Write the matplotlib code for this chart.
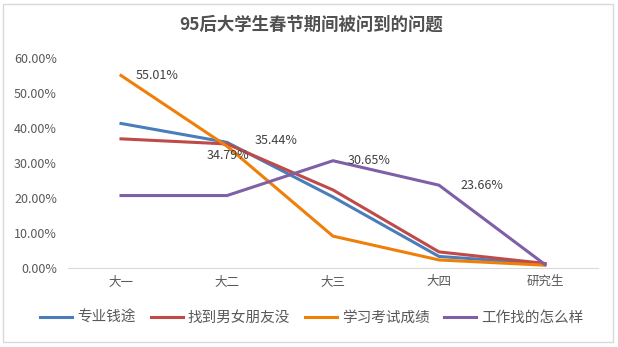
import matplotlib
matplotlib.use("Agg")
import matplotlib.pyplot as plt
from matplotlib.patches import Rectangle

plt.rcParams['font.family'] = ['Noto Sans CJK SC', 'DejaVu Sans']

categories = ["大一", "大二", "大三", "大四", "研究生"]
series_names = ["专业钱途", "找到男女朋友没", "学习考试成绩", "工作找的怎么样"]
career = [41.3, 35.9, 20.3, 3.3, 1.2]
romance = [36.9, 35.44, 22.3, 4.6, 1.3]
exams = [55.01, 34.79, 9.1, 2.3, 0.8]
jobs = [20.7, 20.7, 30.65, 23.66, 1.0]
colors = ["#4A7EBB", "#BE4B48", "#F07F09", "#7F5FA6"]
yticks = [0, 10, 20, 30, 40, 50, 60]

fig = plt.figure(figsize=(6.18, 3.47), dpi=100)
fig.patches.append(Rectangle((3/618, 1-342/347), 610/618, 338/347, transform=fig.transFigure,
                             fill=False, edgecolor="#D9D9D9", linewidth=1))
ax = fig.add_axes([68/618, 1-268/347, 530/618, 210/347])
x = list(range(len(categories)))
for vals, c, name in zip([career, romance, exams, jobs], colors, series_names):
    ax.plot(x, vals, color=c, linewidth=2.2, label=name, solid_joinstyle='miter')

txt = "#404040"
fs = 9
ax.text(x[0] + 0.14, exams[0], f"{exams[0]:.2f}%", fontsize=fs, color=txt, va="center")
ax.text(x[1] - 0.19, exams[1] - 2.7, f"{exams[1]:.2f}%", fontsize=fs, color=txt, va="center", ha="left")
ax.text(x[1] + 0.26, romance[1] + 1.0, f"{romance[1]:.2f}%", fontsize=fs, color=txt, va="center")
ax.text(x[2] + 0.14, jobs[2], f"{jobs[2]:.2f}%", fontsize=fs, color=txt, va="center")
ax.text(x[3] + 0.2, jobs[3], f"{jobs[3]:.2f}%", fontsize=fs, color=txt, va="center")

ax.set_xlim(-0.5, 4.5)
ax.set_ylim(0, 60)
ax.set_yticks(yticks)
ax.set_yticklabels([f"{v:.2f}%" for v in yticks])
ax.set_xticks(x)
ax.set_xticklabels(categories)
ax.tick_params(axis='both', length=0, colors="#595959", labelsize=9)
ax.tick_params(axis='y', pad=8)
ax.tick_params(axis='x', pad=5, labelsize=9)
for s in ["top", "right", "left"]:
    ax.spines[s].set_visible(False)
ax.spines["bottom"].set_color("#D9D9D9")
ax.set_facecolor("none")

fig.text(0.5 + 2/618, 1-25/347, "95后大学生春节期间被问到的问题", ha="center", va="center",
         fontsize=12.5, fontweight="bold", color="#505050")
fig.legend(loc="center", bbox_to_anchor=(0.505, 1-318/347), ncol=4, frameon=False,
           fontsize=10.5, handlelength=2.2, columnspacing=1.0, handletextpad=0.35,
           labelcolor="#595959")
fig.savefig("out.png", dpi=100)
